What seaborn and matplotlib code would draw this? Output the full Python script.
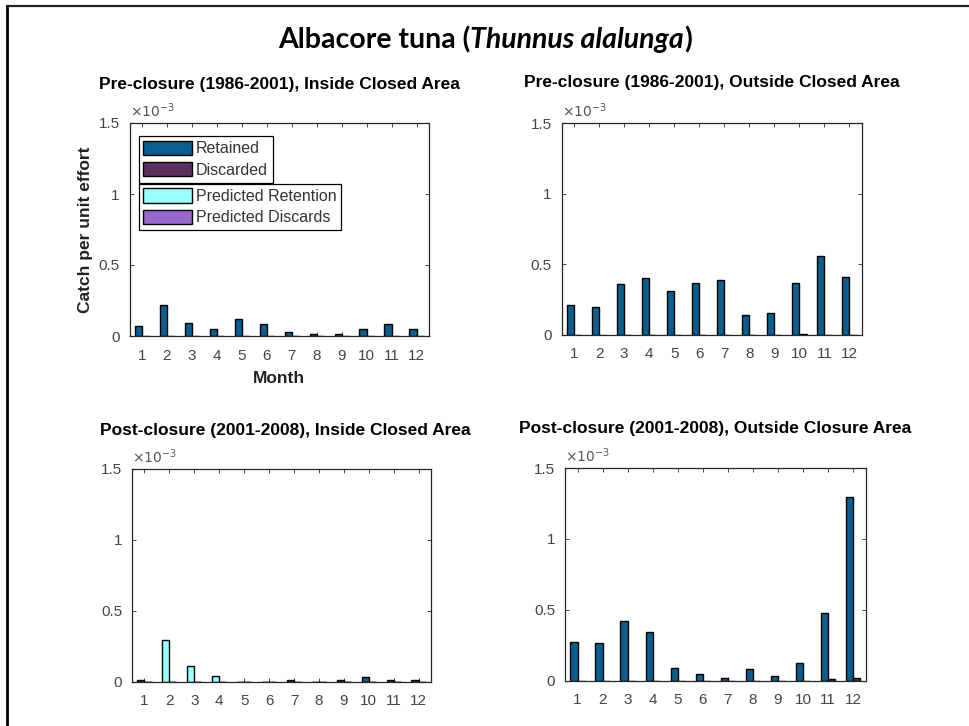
import numpy as np
import pandas as pd
import seaborn as sns
import matplotlib
matplotlib.use("Agg")
import matplotlib.pyplot as plt
from matplotlib.patches import Patch
from matplotlib.lines import Line2D

# ---------------- data (values in units of 1e-3 catch per unit effort) ----------------
months = [str(m) for m in range(1, 13)]

tl_retained  = [0.07, 0.22, 0.094, 0.05, 0.118, 0.082, 0.026, 0.014, 0.016, 0.05, 0.082, 0.05]
tl_discarded = [0.0, 0.0, 0.0, 0.0, 0.0, 0.0, 0.0, 0.0, 0.0, 0.0, 0.0, 0.0]

tr_retained  = [0.208, 0.196, 0.359, 0.40, 0.31, 0.366, 0.39, 0.137, 0.151, 0.366, 0.56, 0.41]
tr_discarded = [0.0, 0.0, 0.0, 0.0, 0.0, 0.0, 0.0, 0.0, 0.0, 0.006, 0.0, 0.0]

bl_retained  = [0.008, 0.0, 0.0, 0.0, 0.0, 0.0, 0.008, 0.0, 0.008, 0.03, 0.008, 0.008]
bl_discarded = [0.0, 0.0, 0.0, 0.0, 0.0, 0.0, 0.0, 0.0, 0.0, 0.0, 0.0, 0.0]
bl_pred_retention = [0.0, 0.292, 0.11, 0.042, 0.0, 0.0, 0.0, 0.0, 0.0, 0.0, 0.0, 0.0]
bl_pred_discards  = [0.0, 0.0, 0.0, 0.0, 0.0, 0.0, 0.0, 0.0, 0.0, 0.0, 0.0, 0.0]

br_retained  = [0.272, 0.262, 0.418, 0.34, 0.09, 0.043, 0.021, 0.078, 0.033, 0.125, 0.477, 1.297]
br_discarded = [0.0, 0.0, 0.0, 0.0, 0.0, 0.0, 0.0, 0.0, 0.0, 0.0, 0.008, 0.021]

yticks = [0, 0.5, 1, 1.5]
ytick_labels = ["0", "0.5", "1", "1.5"]

titles = [
    "Pre-closure (1986-2001), Inside Closed Area",
    "Pre-closure (1986-2001), Outside Closed Area",
    "Post-closure (2001-2008), Inside Closed Area",
    "Post-closure (2001-2008), Outside Closure Area",
]

series_names = ["Retained", "Discarded"]
pred_names = ["Predicted Retention", "Predicted Discards"]
colors = {"Retained": "#0b5e8e", "Discarded": "#5e2d60",
          "Predicted Retention": "#99ffff", "Predicted Discards": "#9966cc"}

# ---------------- figure ----------------
sns.set_style("white")
plt.rcParams["font.family"] = ["Liberation Sans", "DejaVu Sans"]

W, H = 969, 726
fig = plt.figure(figsize=(W / 100, H / 100), dpi=100)

def px_rect(l, r, t, b):
    return [l / W, 1 - b / H, (r - l) / W, (b - t) / H]

rects = [
    px_rect(129.5, 429, 123, 336),
    px_rect(561.5, 862, 123, 334.5),
    px_rect(132, 431, 469, 681.5),
    px_rect(565, 865.5, 468, 680.5),
]
title_pos = [(279, 85), (712, 82), (285, 431), (715, 429)]

panels = [
    (tl_retained, tl_discarded, None, None),
    (tr_retained, tr_discarded, None, None),
    (bl_retained, bl_discarded, bl_pred_retention, bl_pred_discards),
    (br_retained, br_discarded, None, None),
]

tick_color = "#444444"
axes = []
for i, (ret, dis, pret, pdis) in enumerate(panels):
    ax = fig.add_axes(rects[i])
    axes.append(ax)
    df = pd.DataFrame({
        "Month": months * 2,
        "Series": [series_names[0]] * 12 + [series_names[1]] * 12,
        "Value": list(ret) + list(dis),
    })
    sns.barplot(data=df, x="Month", y="Value", hue="Series", order=months,
                hue_order=series_names, palette=colors, width=0.57, gap=0,
                edgecolor="black", linewidth=1.0, saturation=1, legend=False,
                errorbar=None, ax=ax)
    if pret is not None:
        dfp = pd.DataFrame({
            "Month": months * 2,
            "Series": [pred_names[0]] * 12 + [pred_names[1]] * 12,
            "Value": list(pret) + list(pdis),
        })
        sns.barplot(data=dfp, x="Month", y="Value", hue="Series", order=months,
                    hue_order=pred_names, palette=colors, width=0.57, gap=0,
                    edgecolor="black", linewidth=1.0, saturation=1, legend=False,
                    errorbar=None, ax=ax)
    ax.set_xlim(-0.5, 11.5)
    ax.set_ylim(0, 1.5)
    ax.set_yticks(yticks)
    ax.set_yticklabels(ytick_labels)
    ax.set_xticks(range(12))
    ax.set_xticklabels(months)
    ax.set_xlabel("")
    ax.set_ylabel("")
    for s in ax.spines.values():
        s.set_visible(True)
        s.set_color("#262626")
        s.set_linewidth(0.9)
    ax.tick_params(axis="both", which="both", direction="in", length=3, width=0.6,
                   color="#262626", labelcolor=tick_color, labelsize=11,
                   top=True, right=True, bottom=True, left=True, pad=7)
    ax.tick_params(axis="x", pad=9)
    ax.text(0.0, 1.012, r"$\times10^{-3}$", transform=ax.transAxes, ha="left",
            va="bottom", fontsize=10, color="#555555")
    fig.text(title_pos[i][0] / W, 1 - title_pos[i][1] / H, titles[i],
             ha="center", va="center", fontsize=12.5, fontweight="bold", color="black")

axes[0].set_xlabel("Month", fontsize=12.5, fontweight="bold", color="#222222", labelpad=6)
axes[0].set_ylabel("Catch per unit effort", fontsize=12.5, fontweight="bold", color="#222222", labelpad=4)

# legends in top-left panel
def mk(name):
    return Patch(facecolor=colors[name], edgecolor="black", linewidth=1.0, label=name)

leg_kw = dict(loc="upper left", frameon=True, fancybox=False, framealpha=1,
              edgecolor="black", fontsize=11.5, handlelength=3.05, handleheight=1.0,
              handletextpad=0.25, borderpad=0.3, labelspacing=0.36, borderaxespad=0)
leg1 = axes[0].legend(handles=[mk(n) for n in series_names],
                      bbox_to_anchor=(138.5 / W, 1 - 136 / H),
                      bbox_transform=fig.transFigure, **leg_kw)
leg1.get_frame().set_linewidth(0.9)
for t in leg1.get_texts():
    t.set_color("#333333")
axes[0].add_artist(leg1)
leg2 = axes[0].legend(handles=[mk(n) for n in pred_names],
                      bbox_to_anchor=(138.5 / W, 1 - 183.5 / H),
                      bbox_transform=fig.transFigure, **leg_kw)
leg2.get_frame().set_linewidth(0.9)
for t in leg2.get_texts():
    t.set_color("#333333")

# main title: "Albacore tuna (" + italic "Thunnus alalunga" + ")"
renderer = fig.canvas.get_renderer()
tfs = 20.5
parts = [("Albacore tuna (", "normal"), ("Thunnus alalunga", "italic"), (")", "normal")]
texts = []
for s, st in parts:
    t = fig.text(0, 1 - 40 / H, s, fontsize=tfs, fontweight="bold", style=st,
                 family=["Lato", "DejaVu Sans"], ha="left", va="center", color="black")
    texts.append(t)
widths = [t.get_window_extent(renderer).width for t in texts]
total = sum(widths)
x = 485 - total / 2
for t, w in zip(texts, widths):
    t.set_x(x / W)
    x += w

# outer frame (top and left edges)
fig.add_artist(Line2D([6.5 / W, 1.0], [1 - 6 / H, 1 - 6 / H], transform=fig.transFigure,
                      color="#222222", linewidth=1.6))
fig.add_artist(Line2D([6.5 / W, 6.5 / W], [0, 1 - 6 / H], transform=fig.transFigure,
                      color="black", linewidth=2.0))

fig.savefig("out.png", dpi=100)
